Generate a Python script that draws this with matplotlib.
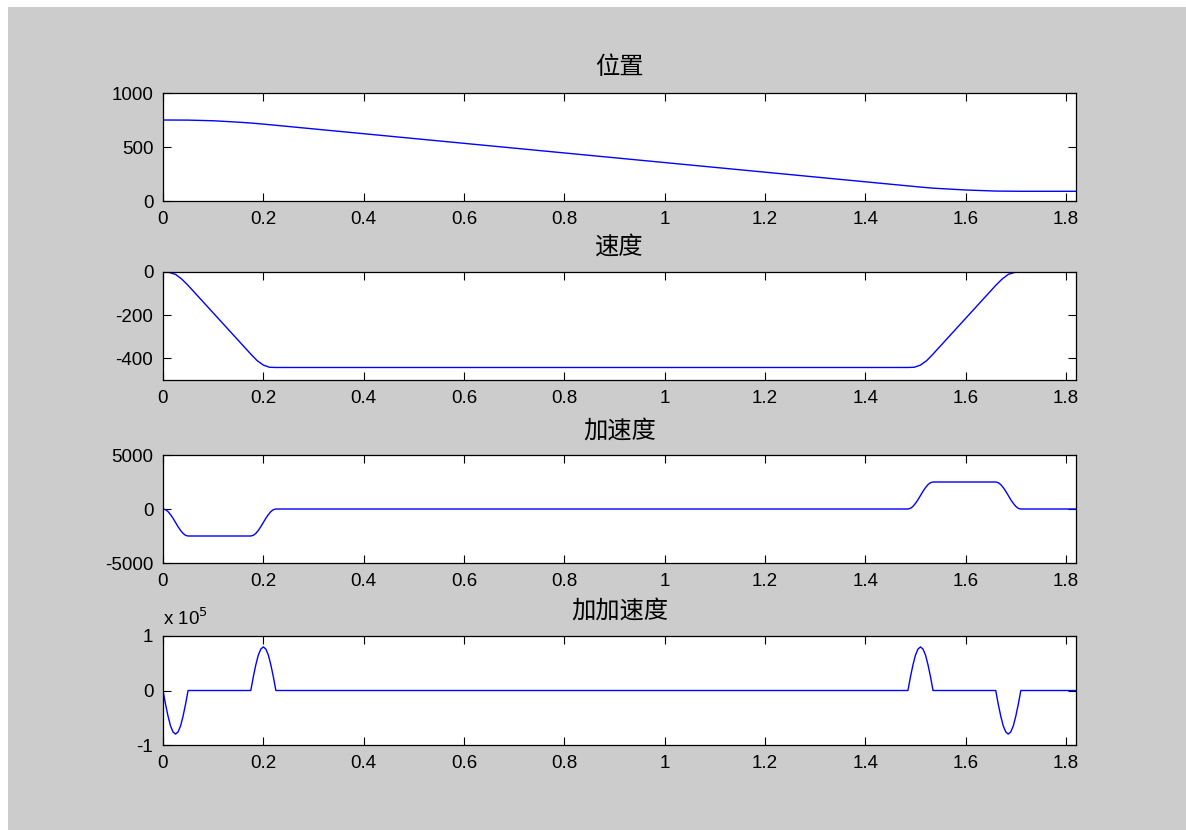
import matplotlib
matplotlib.use("Agg")
import matplotlib.pyplot as plt
from matplotlib.patches import Rectangle

plt.rcParams['font.family'] = ['Liberation Sans', 'Noto Sans CJK SC', 'DejaVu Sans']

# position (t, p)
pos_t = [0.0, 0.05, 0.1, 0.15, 0.175, 0.2, 0.225, 1.485, 1.51, 1.535, 1.6, 1.66, 1.71, 1.82]
pos = [750, 749, 743, 730, 722, 712, 701, 140, 129, 119, 102, 92, 90, 90]

# velocity (t, v)
vel_t = [0.0, 0.0125, 0.025, 0.0375, 0.05, 0.175, 0.1875, 0.2, 0.2125, 0.225,
         1.485, 1.4975, 1.51, 1.5225, 1.535, 1.66, 1.6725, 1.685, 1.6975, 1.71, 1.82]
vel = [0, -2, -11, -33, -62, -380, -410, -431, -441, -442,
       -442, -441, -431, -410, -380, -62, -33, -11, -2, 0, 0]

# acceleration and jerk share the same sample times
seg_t = [0.000, 0.005, 0.010, 0.015, 0.020, 0.025, 0.030, 0.035, 0.040, 0.045, 0.050,
         0.175, 0.180, 0.185, 0.190, 0.195, 0.200, 0.205, 0.210, 0.215, 0.220, 0.225,
         1.485, 1.490, 1.495, 1.500, 1.505, 1.510, 1.515, 1.520, 1.525, 1.530, 1.535,
         1.660, 1.665, 1.670, 1.675, 1.680, 1.685, 1.690, 1.695, 1.700, 1.705, 1.710,
         1.820]
acc = [0, -60, -240, -520, -860, -1250, -1640, -1980, -2260, -2440, -2500,
       -2500, -2440, -2260, -1980, -1640, -1250, -860, -520, -240, -60, 0,
       0, 60, 240, 520, 860, 1250, 1640, 1980, 2260, 2440, 2500,
       2500, 2440, 2260, 1980, 1640, 1250, 860, 520, 240, 60, 0,
       0]
jerk = [0, -25000, -47000, -65000, -76000, -80000, -76000, -65000, -47000, -25000, 0,
        0, 25000, 47000, 65000, 76000, 80000, 76000, 65000, 47000, 25000, 0,
        0, 25000, 47000, 65000, 76000, 80000, 76000, 65000, 47000, 25000, 0,
        0, -25000, -47000, -65000, -76000, -80000, -76000, -65000, -47000, -25000, 0,
        0]

xticks = [0, 0.2, 0.4, 0.6, 0.8, 1.0, 1.2, 1.4, 1.6, 1.8]
xlabels = ['0', '0.2', '0.4', '0.6', '0.8', '1', '1.2', '1.4', '1.6', '1.8']

titles = ['位置', '速度', '加速度', '加加速度']
W, H = 1186, 830

fig = plt.figure(figsize=(W / 100, H / 100), dpi=100, facecolor='white')
fig.patches.append(Rectangle((8 / W, 0), 1, 1 - 7 / H, transform=fig.transFigure,
                             facecolor='#cccccc', edgecolor='none', zorder=-10))

tops = [93, 272, 455, 636]
bottoms = [201, 380, 563, 745]
title_y = [67, 247, 431, 611]
left, right = 163, 1076

series = [(pos_t, pos), (vel_t, vel), (seg_t, acc), (seg_t, jerk)]
ylims = [(0, 1000), (-500, 0), (-5000, 5000), (-100000, 100000)]
yticks = [[0, 500, 1000], [-400, -200, 0], [-5000, 0, 5000], [-100000, 0, 100000]]
ylabels = [['0', '500', '1000'], ['-400', '-200', '0'], ['-5000', '0', '5000'], ['-1', '0', '1']]

for i in range(4):
    ax = fig.add_axes([left / W, 1 - bottoms[i] / H, (right - left) / W,
                       (bottoms[i] - tops[i]) / H])
    t, y = series[i]
    ax.plot(t, y, color='#0000ff', lw=1.0)
    ax.set_xlim(0, 1.82)
    ax.set_ylim(*ylims[i])
    ax.set_xticks(xticks)
    ax.set_xticklabels(xlabels)
    ax.set_yticks(yticks[i])
    ax.set_yticklabels(ylabels[i])
    ax.tick_params(direction='in', length=6, width=0.8, top=True, right=True,
                   labelsize=13.5, pad=7, colors='black')
    for sp in ax.spines.values():
        sp.set_linewidth(0.9)
    fig.text((left + right) / 2 / W, 1 - title_y[i] / H, titles[i],
             ha='center', va='center', fontsize=17.5,
             family=['Noto Sans CJK SC', 'DejaVu Sans'])

fig.text(left / W, 1 - 618 / H, r'x 10$^{5}$', ha='left', va='center', fontsize=13.5)

fig.savefig('out.png', dpi=100)
